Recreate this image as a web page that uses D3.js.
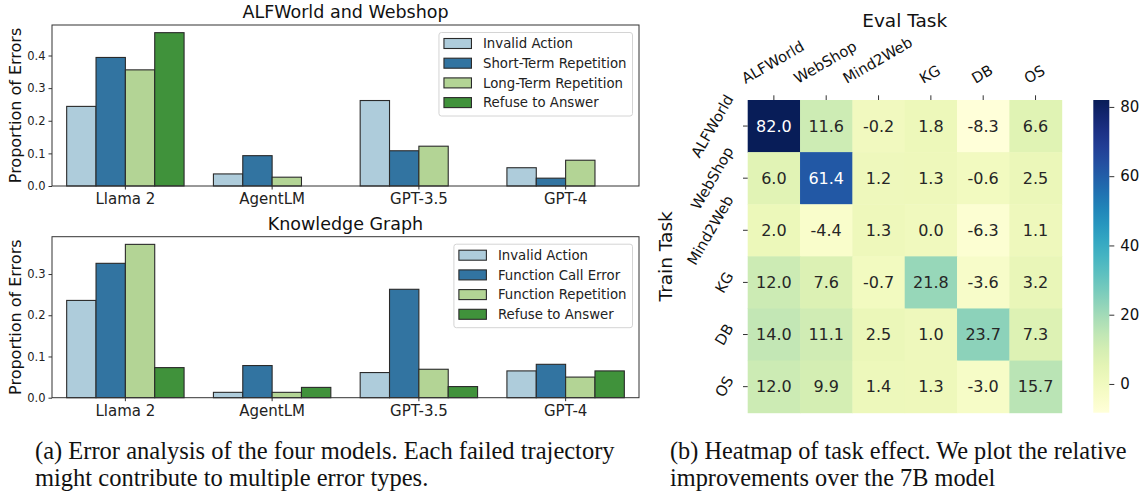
<!DOCTYPE html>
<html>
<head>
<meta charset="utf-8">
<script src="https://cdn.jsdelivr.net/npm/d3@7"></script>
<style>
body { margin: 0; background: #fff; }
svg { display: block; }
</style>
</head>
<body>
<script>
// bar chart data
var models = ["Llama 2", "AgentLM", "GPT-3.5", "GPT-4"];

var alfSeries = ["Invalid Action", "Short-Term Repetition", "Long-Term Repetition", "Refuse to Answer"];
var alfInvalid = [0.244, 0.037, 0.262, 0.056];
var alfShortRep = [0.394, 0.093, 0.108, 0.024];
var alfLongRep = [0.356, 0.027, 0.122, 0.079];
var alfRefuse = [0.470, 0, 0, 0];
var alfTicks = [0, 0.1, 0.2, 0.3, 0.4];

var kgSeries = ["Invalid Action", "Function Call Error", "Function Repetition", "Refuse to Answer"];
var kgInvalid = [0.236, 0.013, 0.061, 0.065];
var kgCallError = [0.326, 0.078, 0.263, 0.081];
var kgRepetition = [0.372, 0.013, 0.069, 0.050];
var kgRefuse = [0.073, 0.025, 0.027, 0.065];
var kgTicks = [0, 0.1, 0.2, 0.3];

// heatmap data
var evalTasks = ["ALFWorld", "WebShop", "Mind2Web", "KG", "DB", "OS"];
var trainTasks = ["ALFWorld", "WebShop", "Mind2Web", "KG", "DB", "OS"];
var heatValues = [
	[82.0, 11.6, -0.2, 1.8, -8.3, 6.6],
	[6.0, 61.4, 1.2, 1.3, -0.6, 2.5],
	[2.0, -4.4, 1.3, 0.0, -6.3, 1.1],
	[12.0, 7.6, -0.7, 21.8, -3.6, 3.2],
	[14.0, 11.1, 2.5, 1.0, 23.7, 7.3],
	[12.0, 9.9, 1.4, 1.3, -3.0, 15.7]
];
var cbarTicks = [0, 20, 40, 60, 80];

var barColors = ["#aeccdb", "#3274a1", "#b3d495", "#40923b"];
var sans = "DejaVu Sans, sans-serif";

var w = 1145,
		h = 492;
var svg = d3.select("body").append("svg").attr("width", w).attr("height", h);

function barPanel(cfg) {
	var left = 52, right = 639;
	var x = d3.scaleBand().domain(models).range([left, right]).paddingInner(0.2).paddingOuter(0.1);
	var xs = d3.scaleBand().domain(cfg.series).range([0, x.bandwidth()]);
	var y = d3.scaleLinear().domain([0, cfg.ymax]).range([cfg.bottom, cfg.top]);
	var g = svg.append("g");

	// bars
	cfg.series.forEach(function(s, i) {
		g.selectAll(null).data(cfg.values[i]).enter().append("rect")
			.attr("x", function(d, j) { return x(models[j]) + xs(s); })
			.attr("y", function(d) { return y(d); })
			.attr("width", xs.bandwidth())
			.attr("height", function(d) { return y(0) - y(d); })
			.attr("fill", barColors[i])
			.attr("stroke", "#2a2a2a")
			.attr("stroke-width", 1.1);
	});

	// y axis
	var ya = g.append("g").attr("transform", "translate(" + left + ",0)")
		.call(d3.axisLeft(y).tickValues(cfg.ticks).tickFormat(d3.format(".1f")).tickSize(3.5).tickPadding(3));
	ya.select(".domain").remove();
	ya.selectAll("text").attr("font-family", sans).attr("font-size", 11.5).attr("fill", "#222");
	ya.selectAll("line").attr("stroke", "#333");

	// x axis
	var xa = g.append("g").attr("transform", "translate(0," + cfg.bottom + ")")
		.call(d3.axisBottom(x).tickSize(3.5).tickPadding(4));
	xa.select(".domain").remove();
	xa.selectAll("text").attr("font-family", sans).attr("font-size", 15).attr("fill", "#222");
	xa.selectAll("line").attr("stroke", "#333");

	// frame
	g.append("rect").attr("x", left).attr("y", cfg.top)
		.attr("width", right - left).attr("height", cfg.bottom - cfg.top)
		.attr("fill", "none").attr("stroke", "#333").attr("stroke-width", 1);

	g.append("text").attr("x", (left + right) / 2).attr("y", cfg.top - 7)
		.attr("text-anchor", "middle").attr("font-family", sans).attr("font-size", 17.5)
		.attr("fill", "#111").text(cfg.title);

	g.append("text").attr("transform", "translate(21," + (cfg.top + cfg.bottom) / 2 + ") rotate(-90)")
		.attr("text-anchor", "middle").attr("font-family", sans).attr("font-size", 16)
		.attr("fill", "#111").text("Proportion of Errors");

	// legend, upper right
	var lg = g.append("g");
	var box = lg.append("rect").attr("rx", 2.5).attr("fill", "#fff").attr("fill-opacity", 0.8)
		.attr("stroke", "#d4d4d4").attr("stroke-width", 1);
	var maxW = 0;
	cfg.series.forEach(function(s, i) {
		var cy = cfg.top + 18.5 + i * 19.7;
		lg.append("rect").attr("x", 0).attr("y", cy - 5).attr("width", 27.5).attr("height", 10)
			.attr("fill", barColors[i]).attr("stroke", "#2a2a2a").attr("stroke-width", 1.1);
		var t = lg.append("text").attr("x", 39).attr("y", cy).attr("dy", "0.35em")
			.attr("font-family", sans).attr("font-size", 13.3).attr("fill", "#222").text(s);
		maxW = Math.max(maxW, t.node().getComputedTextLength());
	});
	var bw = 5 + 39 + maxW + 6;
	box.attr("x", -5).attr("y", cfg.top + 7.5).attr("width", bw).attr("height", 83.5);
	lg.attr("transform", "translate(" + (right - 6.5 - bw + 5) + ",0)");
}

barPanel({
	top: 25, bottom: 186, ymax: 0.47 * 1.05, ticks: alfTicks,
	title: "ALFWorld and Webshop", series: alfSeries,
	values: [alfInvalid, alfShortRep, alfLongRep, alfRefuse]
});
barPanel({
	top: 236.7, bottom: 397.7, ymax: 0.372 * 1.05, ticks: kgTicks,
	title: "Knowledge Graph", series: kgSeries,
	values: [kgInvalid, kgCallError, kgRepetition, kgRefuse]
});

// heatmap
var hx = d3.scaleBand().domain(evalTasks).range([747.7, 1061.7]);
var hy = d3.scaleBand().domain(trainTasks).range([100, 412.7]);
var flat = [].concat.apply([], heatValues);
var color = d3.scaleSequential(d3.interpolateYlGnBu).domain([d3.min(flat), d3.max(flat)]);

var cells = [];
heatValues.forEach(function(row, r) {
	row.forEach(function(v, c) {
		cells.push({ r: trainTasks[r], c: evalTasks[c], v: v });
	});
});

function lum(col) {
	var rgb = d3.rgb(col);
	var f = function(u) {
		u = u / 255;
		return u <= 0.03928 ? u / 12.92 : Math.pow((u + 0.055) / 1.055, 2.4);
	};
	return 0.2126 * f(rgb.r) + 0.7152 * f(rgb.g) + 0.0722 * f(rgb.b);
}

var hm = svg.append("g");
hm.selectAll("rect.cell").data(cells).enter().append("rect").classed("cell", true)
	.attr("x", function(d) { return hx(d.c); })
	.attr("y", function(d) { return hy(d.r); })
	.attr("width", hx.bandwidth() + 0.5)
	.attr("height", hy.bandwidth() + 0.5)
	.attr("fill", function(d) { return color(d.v); });

hm.selectAll("text.val").data(cells).enter().append("text").classed("val", true)
	.attr("x", function(d) { return hx(d.c) + hx.bandwidth() / 2; })
	.attr("y", function(d) { return hy(d.r) + hy.bandwidth() / 2; })
	.attr("dy", "0.36em")
	.attr("text-anchor", "middle")
	.attr("font-family", sans).attr("font-size", 16)
	.attr("fill", function(d) { return lum(color(d.v)) > 0.408 ? "#262626" : "#ffffff"; })
	.text(function(d) { return d.v.toFixed(1); });

// column ticks and rotated labels (top)
evalTasks.forEach(function(t) {
	var cx = hx(t) + hx.bandwidth() / 2;
	hm.append("line").attr("x1", cx).attr("x2", cx).attr("y1", 95.3).attr("y2", 100)
		.attr("stroke", "#333");
	var lab = hm.append("text").attr("text-anchor", "middle").attr("dy", "0.35em")
		.attr("font-family", sans).attr("font-size", 14.8).attr("fill", "#111").text(t);
	var tw = lab.node().getComputedTextLength();
	var th = 14.8 * 1.16;
	var a = 30 * Math.PI / 180;
	var vext = tw * Math.sin(a) + th * Math.cos(a);
	lab.attr("transform", "translate(" + (cx - 1) + "," + (87 - vext / 2) + ") rotate(-30)");
});

// row ticks and rotated labels (left)
trainTasks.forEach(function(t) {
	var cy = hy(t) + hy.bandwidth() / 2;
	hm.append("line").attr("x1", 743).attr("x2", 747.7).attr("y1", cy).attr("y2", cy)
		.attr("stroke", "#333");
	var lab = hm.append("text").attr("text-anchor", "middle").attr("dy", "0.35em")
		.attr("font-family", sans).attr("font-size", 14.8).attr("fill", "#111").text(t);
	var tw = lab.node().getComputedTextLength();
	var th = 14.8 * 1.16;
	var a = 60 * Math.PI / 180;
	var hext = tw * Math.cos(a) + th * Math.sin(a);
	lab.attr("transform", "translate(" + (737 - hext / 2) + "," + cy + ") rotate(-60)");
});

hm.append("text").attr("x", (747.7 + 1061.7) / 2).attr("y", 26.5)
	.attr("text-anchor", "middle").attr("font-family", sans).attr("font-size", 18.5)
	.attr("fill", "#111").text("Eval Task");
hm.append("text").attr("transform", "translate(672," + (100 + 412.7) / 2 + ") rotate(-90)")
	.attr("text-anchor", "middle").attr("font-family", sans).attr("font-size", 18.5)
	.attr("fill", "#111").text("Train Task");

// colorbar
var cb = d3.scaleLinear().domain(color.domain()).range([412.7, 100]);
var defs = svg.append("defs");
var grad = defs.append("linearGradient").attr("id", "cbar")
	.attr("x1", 0).attr("y1", 1).attr("x2", 0).attr("y2", 0);
d3.range(0, 1.0001, 0.05).forEach(function(t) {
	grad.append("stop").attr("offset", t)
		.attr("stop-color", color(color.domain()[0] + t * (color.domain()[1] - color.domain()[0])));
});
svg.append("rect").attr("x", 1093.3).attr("y", 100).attr("width", 16).attr("height", 312.7)
	.attr("fill", "url(#cbar)");
var ca = svg.append("g").attr("transform", "translate(1109.3,0)")
	.call(d3.axisRight(cb).tickValues(cbarTicks).tickSize(5).tickPadding(6));
ca.select(".domain").remove();
ca.selectAll("text").attr("font-family", sans).attr("font-size", 15).attr("fill", "#111");
ca.selectAll("line").attr("stroke", "#333");

// captions
var serif = "Liberation Serif, Times New Roman, serif";
var capA = ["(a) Error analysis of the four models. Each failed trajectory",
	"might contribute to multiple error types."];
var capB = ["(b) Heatmap of task effect. We plot the relative",
	"improvements over the 7B model"];
capA.forEach(function(s, i) {
	svg.append("text").attr("x", 35).attr("y", 459 + i * 27.3)
		.attr("font-family", serif).attr("font-size", 24.5).attr("fill", "#111").text(s);
});
capB.forEach(function(s, i) {
	svg.append("text").attr("x", 670).attr("y", 459 + i * 27.3)
		.attr("font-family", serif).attr("font-size", 24.3).attr("fill", "#111").text(s);
});
</script>
</body>
</html>
